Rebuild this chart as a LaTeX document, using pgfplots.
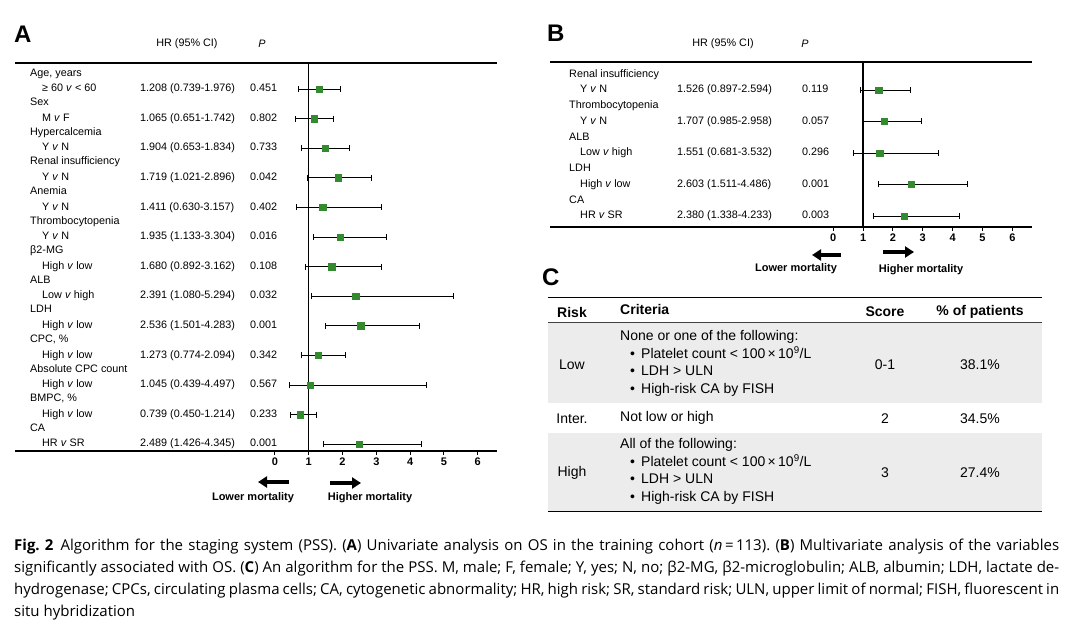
\documentclass[border=0pt]{standalone}
\usepackage{pgfplots}
\pgfplotsset{compat=1.18}
\usepackage{pgfplotstable}
\usepackage{fontspec}
\setmainfont{Liberation Sans}
\newfontfamily\capfont{Open Sans}
\usetikzlibrary{arrows.meta}
\definecolor{fgreen}{RGB}{52,138,46}
\definecolor{rowgray}{RGB}{236,236,236}
\newcommand\tfont{\fontsize{10.8}{12}\selectfont}
\newcommand\cfont{\fontsize{14}{16}\selectfont}
\frenchspacing

% panel A: univariate (plotted positions)
\pgfplotstableread{
row hr lo hi
1 1.31 0.69 1.95
2 1.16 0.61 1.73
3 1.48 0.77 2.19
4 1.88 0.95 2.85
5 1.411 0.630 3.157
6 1.935 1.133 3.304
7 1.680 0.892 3.162
8 2.391 1.080 5.294
9 2.536 1.501 4.283
10 1.273 0.774 2.094
11 1.045 0.439 4.497
12 0.739 0.450 1.214
13 2.489 1.426 4.345
}\tableA

% panel B: multivariate
\pgfplotstableread{
row hr lo hi
1 1.526 0.897 2.594
2 1.707 0.985 2.958
3 1.551 0.681 3.532
4 2.603 1.511 4.486
5 2.380 1.338 4.233
}\tableB

\pgfplotsset{forest/.style={
    scale only axis, anchor=north west,
    y dir=reverse,
    axis x line=box, axis y line=none,
    axis line style={line width=1.8pt},
    xtick={0,...,6}, xtick pos=bottom, ytick=\empty,
    tick align=outside, major tick length=4pt,
    tick style={line width=1pt, black},
    /pgf/number format/assume math mode=true,
    xticklabel style={font=\bfseries\fontsize{11}{12}\selectfont, yshift=1pt},
    clip=false,
  },
  hrplot/.style={only marks, mark=square*, mark size=3.2pt,
    mark options={fill=fgreen, draw=fgreen},
    error bars/.cd, x dir=both, x explicit, error mark=|,
    error bar style={line width=0.9pt, black},
    error mark options={line width=0.9pt, mark size=3pt, black}},
}

\begin{document}
\begin{tikzpicture}
\useasboundingbox (0,0) rectangle (1086pt,-628pt);

% ---- A
\begin{axis}[forest, at={(15pt,-63pt)}, width=482pt, height=388pt,
    xmin=-7.69, xmax=6.57, ymin=0.12, ymax=13.23]
  \draw[line width=1.5pt] (axis cs:1,0.12) -- (axis cs:1,13.23);
  \addplot[hrplot] table[x=hr, y=row,
    x error plus expr=\thisrow{hi}-\thisrow{hr},
    x error minus expr=\thisrow{hr}-\thisrow{lo}] \tableA;
\end{axis}

% ---- B
\begin{axis}[forest, at={(550pt,-62pt)}, width=482pt, height=165pt,
    xmin=-9.49, xmax=6.66, ymin=0.111, ymax=5.35]
  \draw[line width=1.5pt] (axis cs:1,0.111) -- (axis cs:1,5.35);
  \addplot[hrplot] table[x=hr, y=row,
    x error plus expr=\thisrow{hi}-\thisrow{hr},
    x error minus expr=\thisrow{hr}-\thisrow{lo}] \tableB;
\end{axis}

\begin{scope}[x=1pt, y=-1pt, every node/.style={inner sep=0pt}]
  % panel letters
  \tikzset{plet/.style={anchor=south west, font=\bfseries\fontsize{24}{26}\selectfont}}
  \node[plet] at (14,42.5) {A};
  \node[plet] at (547,41.5) {B};
  \node[plet] at (542,286) {C};

  % A headers
  \node[font=\tfont] at (187,44) {HR (95\% CI)};
  \node[font=\tfont\itshape] at (262,44) {P};
  \foreach \i/\cat/\sub/\hr/\p in {
    1/{Age, years}/{≥ 60 \textit{v} < 60}/{1.208 (0.739-1.976)}/0.451,
    2/{Sex}/{M \textit{v} F}/{1.065 (0.651-1.742)}/0.802,
    3/{Hypercalcemia}/{Y \textit{v} N}/{1.904 (0.653-1.834)}/0.733,
    4/{Renal insufficiency}/{Y \textit{v} N}/{1.719 (1.021-2.896)}/0.042,
    5/{Anemia}/{Y \textit{v} N}/{1.411 (0.630-3.157)}/0.402,
    6/{Thrombocytopenia}/{Y \textit{v} N}/{1.935 (1.133-3.304)}/0.016,
    7/{β2-MG}/{High \textit{v} low}/{1.680 (0.892-3.162)}/0.108,
    8/{ALB}/{Low \textit{v} high}/{2.391 (1.080-5.294)}/0.032,
    9/{LDH}/{High \textit{v} low}/{2.536 (1.501-4.283)}/0.001,
    10/{CPC, \%}/{High \textit{v} low}/{1.273 (0.774-2.094)}/0.342,
    11/{Absolute CPC count}/{High \textit{v} low}/{1.045 (0.439-4.497)}/0.567,
    12/{BMPC, \%}/{High \textit{v} low}/{0.739 (0.450-1.214)}/0.233,
    13/{CA}/{HR \textit{v} SR}/{2.489 (1.426-4.345)}/0.001}{
    \pgfmathsetmacro\yy{89+(\i-1)*29.6}
    \node[anchor=mid west, font=\tfont] at (30,\yy-15.5) {\cat};
    \node[anchor=mid west, font=\tfont] at (42,\yy) {\sub};
    \node[anchor=mid west, font=\tfont] at (140,\yy) {\hr};
    \node[anchor=mid west, font=\tfont] at (250,\yy) {\p};
  }

  % B headers
  \node[font=\tfont] at (723,44) {HR (95\% CI)};
  \node[font=\tfont\itshape] at (805,44) {P};
  \foreach \i/\cat/\sub/\hr/\p in {
    1/{Renal insufficiency}/{Y \textit{v} N}/{1.526 (0.897-2.594)}/0.119,
    2/{Thrombocytopenia}/{Y \textit{v} N}/{1.707 (0.985-2.958)}/0.057,
    3/{ALB}/{Low \textit{v} high}/{1.551 (0.681-3.532)}/0.296,
    4/{LDH}/{High \textit{v} low}/{2.603 (1.511-4.486)}/0.001,
    5/{CA}/{HR \textit{v} SR}/{2.380 (1.338-4.233)}/0.003}{
    \pgfmathsetmacro\yy{90+(\i-1)*31.5}
    \node[anchor=mid west, font=\tfont] at (569,\yy-15.5) {\cat};
    \node[anchor=mid west, font=\tfont] at (580,\yy) {\sub};
    \node[anchor=mid west, font=\tfont] at (677,\yy) {\hr};
    \node[anchor=mid west, font=\tfont] at (802,\yy) {\p};
  }

  % mortality arrows
  \tikzset{marr/.style={line width=3.6pt, -{Triangle[length=9pt,width=11pt]}},
           mlab/.style={font=\bfseries\fontsize{11}{12}\selectfont}}
  \draw[marr] (289,482) -- (258,482);
  \draw[marr] (330,483) -- (361,483);
  \node[mlab] at (253,498) {Lower mortality};
  \node[mlab] at (370,498) {Higher mortality};
  \draw[marr] (841,255) -- (812,255);
  \draw[marr] (883,252) -- (914,252);
  \node[mlab] at (796,269) {Lower mortality};
  \node[mlab] at (921,270) {Higher mortality};

  % ---- C table
  \fill[rowgray] (548,323) rectangle (1042,403);
  \fill[rowgray] (548,433) rectangle (1042,510.5);
  \draw[line width=1.5pt] (548,297.5) -- (1042,297.5);
  \draw[line width=1pt, black!75] (548,322.7) -- (1042,322.7);
  \draw[line width=1.5pt] (548,511.7) -- (1042,511.7);
  \node[font=\cfont\bfseries] at (572,312) {Risk};
  \node[anchor=mid west, font=\cfont\bfseries] at (620,312) {Criteria};
  \node[font=\cfont\bfseries] at (885,312) {Score};
  \node[font=\cfont\bfseries] at (980,312) {\% of patients};

  \node[font=\cfont] at (572,365) {Low};
  \node[anchor=mid west, font=\cfont] at (620,338) {None or one of the following:};
  \node[font=\cfont] at (885,365) {0-1};
  \node[font=\cfont] at (980,365) {38.1\%};
  \node[font=\cfont] at (572,419) {Inter.};
  \node[anchor=mid west, font=\cfont] at (620,419) {Not low or high};
  \node[font=\cfont] at (885,419) {2};
  \node[font=\cfont] at (980,419) {34.5\%};
  \node[font=\cfont] at (572,473) {High};
  \node[anchor=mid west, font=\cfont] at (620,446) {All of the following:};
  \node[font=\cfont] at (885,473) {3};
  \node[font=\cfont] at (980,473) {27.4\%};
  \foreach \yy in {356,464}{
    \node[anchor=mid west, font=\cfont] at (630,\yy) {•};
    \node[anchor=mid west, font=\cfont] at (641,\yy) {Platelet count < 100\,×\,10\textsuperscript{9}/L};
    \node[anchor=mid west, font=\cfont] at (630,\yy+17.3) {•};
    \node[anchor=mid west, font=\cfont] at (641,\yy+17.3) {LDH > ULN};
    \node[anchor=mid west, font=\cfont] at (630,\yy+34.6) {•};
    \node[anchor=mid west, font=\cfont] at (641,\yy+34.6) {High-risk CA by FISH};
  }

  % ---- caption
  \tikzset{capline/.style={anchor=base west, font=\capfont\fontsize{15}{17}\selectfont}}
  \node[capline] at (14,550) {\hbox to 1045pt{\textbf{Fig.~2}\kern7pt Algorithm for the staging system (PSS). (\textbf{A}) Univariate analysis on OS in the training cohort (\textit{n}\,=\,113). (\textbf{B}) Multivariate analysis of the variables}};
  \node[capline] at (14,572) {\hbox to 1045pt{significantly associated with OS. (\textbf{C}) An algorithm for the PSS. M, male; F, female; Y, yes; N, no; β2-MG, β2-microglobulin; ALB, albumin; LDH, lactate de-}};
  \node[capline] at (14,594) {\hbox to 1045pt{hydrogenase; CPCs, circulating plasma cells; CA, cytogenetic abnormality; HR, high risk; SR, standard risk; ULN, upper limit of normal; FISH, fluorescent in}};
  \node[capline] at (14,616) {situ hybridization};
\end{scope}
\end{tikzpicture}
\end{document}
